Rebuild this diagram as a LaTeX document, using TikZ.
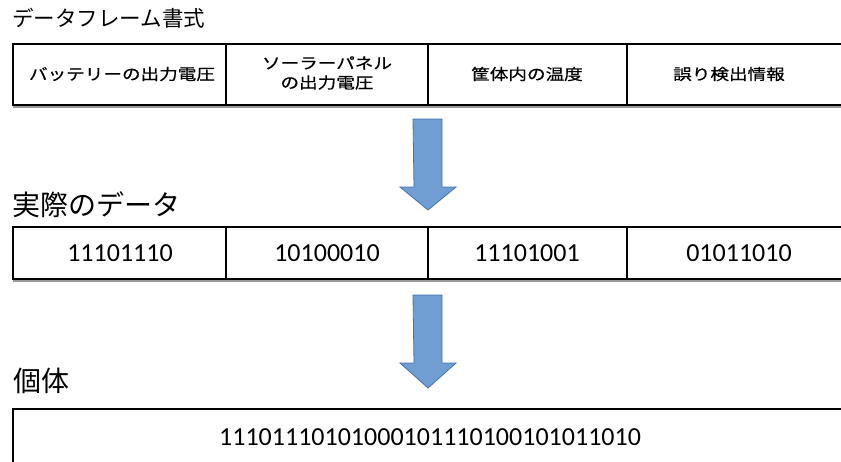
\documentclass[tikz,border=0pt]{standalone}
\usepackage{fontspec}
\newfontfamily\jp{Noto Sans CJK JP}
\newfontfamily\jpcell[FakeStretch=1.2,FakeBold=0.6]{Noto Sans CJK JP}
\newfontfamily\numfont{Carlito}
\usetikzlibrary{shadows}
\definecolor{arrowfill}{RGB}{112,157,210}
\definecolor{arrowline}{RGB}{70,114,180}
\begin{document}
\begin{tikzpicture}[x=1pt,y=-1pt,
  cell/.style={draw=black,line width=2.9pt,fill=white,rectangle,inner sep=0pt,
    drop shadow={shadow xshift=0pt,shadow yshift=-2.6pt,fill=black!40,opacity=1}},
  fmttext/.style={font=\jpcell\fontsize{15.5}{19.5}\selectfont,align=center},
  datatext/.style={font=\numfont\fontsize{26}{28}\selectfont},
  heading/.style={anchor=west,inner sep=0pt},
  blockarrow/.style={fill=arrowfill,draw=arrowline,line width=0.8pt,line join=miter}]
\useasboundingbox (0,0) rectangle (841,461);
\clip (0,0) rectangle (841,461);
\fill[white] (0,0) rectangle (841,461);

% headings
\node[heading,font=\jp\fontsize{21.5}{24}\selectfont] (h1) at (12,18) {データフレーム書式};
\node[heading,font=\jp\fontsize{28}{30}\selectfont] (h2) at (12,205) {実際のデータ};
\node[heading,font=\jp\fontsize{28}{30}\selectfont] (h3) at (13,381) {個体};

% row 1: frame format
\node[cell,minimum width=213pt,minimum height=61pt] (f1) at (119.5,74.5) {};
\node[cell,minimum width=202pt,minimum height=61pt] (f2) at (327,74.5) {};
\node[cell,minimum width=199pt,minimum height=61pt] (f3) at (527.5,74.5) {};
\node[cell,minimum width=224pt,minimum height=61pt] (f4) at (739,74.5) {};
\node[fmttext] (t1) at (122,74) {バッテリーの出力電圧};
\node[fmttext] (t2) at (327,73) {ソーラーパネル\\の出力電圧};
\node[fmttext] (t3) at (527,74) {筐体内の温度};
\node[fmttext] (t4) at (729,74) {誤り検出情報};

% row 2: actual data
\node[cell,minimum width=213pt,minimum height=52pt] (d1) at (119.5,253) {};
\node[cell,minimum width=202pt,minimum height=52pt] (d2) at (327,253) {};
\node[cell,minimum width=199pt,minimum height=52pt] (d3) at (527.5,253) {};
\node[cell,minimum width=224pt,minimum height=52pt] (d4) at (739,253) {};
\node[datatext] (n1) at (120,253) {11101110};
\node[datatext] (n2) at (327,253) {10100010};
\node[datatext] (n3) at (527,253) {11101001};
\node[datatext] (n4) at (739,253) {01011010};

% row 3: individual
\node[cell,minimum width=834pt,minimum height=80pt] (ind) at (430,449) {};
\node[datatext] (n5) at (430,437) {11101110101000101110100101011010};

% block arrows
\coordinate (a1) at (427.5,119);
\coordinate (a2) at (427.5,295);
\draw[blockarrow] (a1) ++(-14.5,0) -- ++(29,0) -- ++(0,68) -- ++(14,0)
  -- ++(-28,23) -- ++(-28,-23) -- ++(14,0) -- cycle;
\draw[blockarrow] (a2) ++(-14.5,0) -- ++(29,0) -- ++(0,68) -- ++(14,0)
  -- ++(-28,25) -- ++(-28,-25) -- ++(14,0) -- cycle;
\end{tikzpicture}
\end{document}
